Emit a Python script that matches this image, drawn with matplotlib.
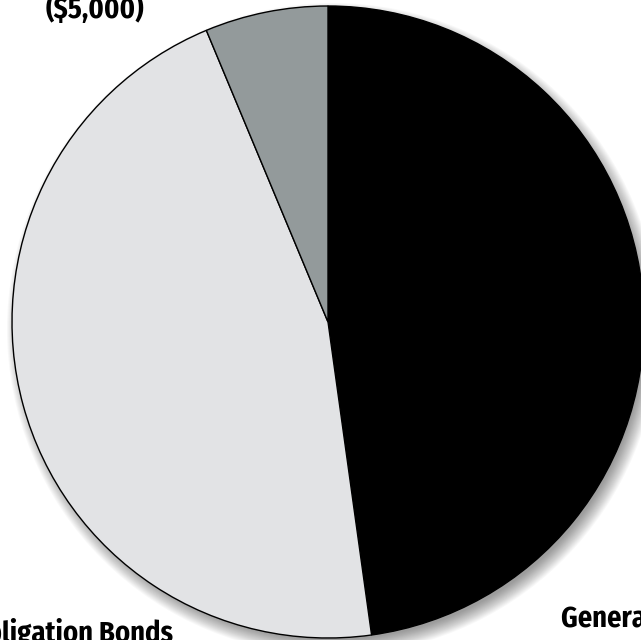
import matplotlib
matplotlib.use("Agg")
import matplotlib.pyplot as plt
from matplotlib.patches import Circle

labels = ["General Fund", "General Obligation Bonds", "Other"]
values = [38000, 36500, 5000]
colors = ["#000000", "#e2e3e5", "#939a9b"]

fig = plt.figure(figsize=(6.41, 6.40), dpi=100)
ax = fig.add_axes([0, 0, 1, 1])

cx, cy, r = 328, 318, 316

# soft drop shadow
n = 16
for i in range(n):
    ax.add_patch(Circle((cx + 5, cy - 7), r + 10 - i, color="black",
                        alpha=0.028, lw=0, zorder=0))

ax.pie(values, colors=colors, startangle=90, counterclock=False,
       center=(cx, cy), radius=r,
       wedgeprops=dict(edgecolor="black", linewidth=1.0), frame=True)
ax.set_xlim(0, 641)
ax.set_ylim(0, 640)
ax.set_aspect("equal")
ax.axis("off")

font = dict(family=["Fira Sans Condensed", "DejaVu Sans"], weight="bold", fontsize=20.5)
ax.text(95, 640 - 18, "Other\n($5,000)", ha="center", va="baseline",
        linespacing=1.0, **font)
ax.text(173, 640 - 642, "General Obligation Bonds", ha="right", va="baseline", **font)
ax.text(561, 640 - 628, "General Fund", ha="left", va="baseline", **font)

fig.savefig("out.png", dpi=100)
